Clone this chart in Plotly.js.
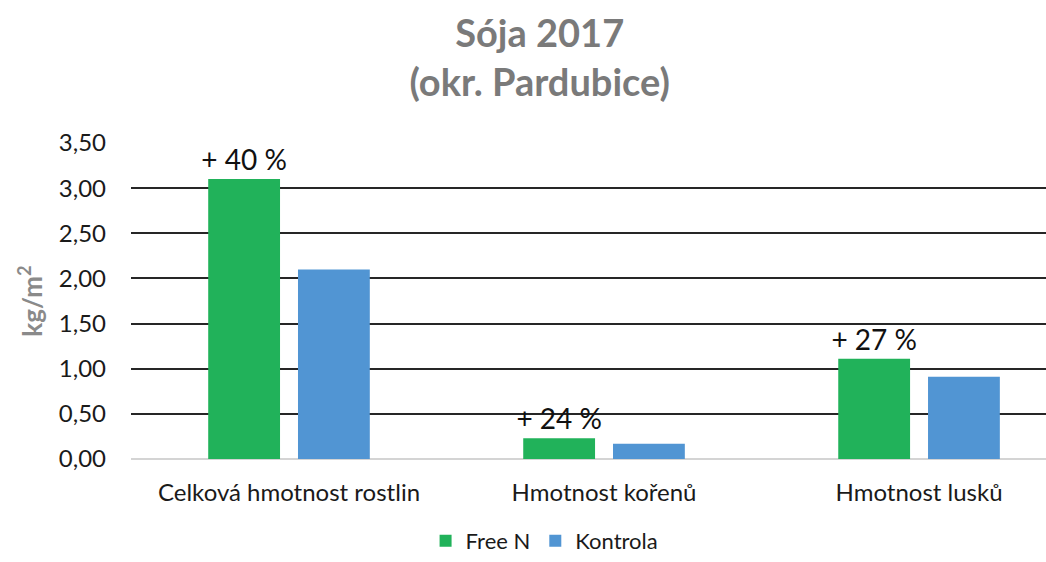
<!DOCTYPE html>
<html>
<head>
<meta charset="utf-8">
<script src="https://cdn.plot.ly/plotly-3.0.1.min.js"></script>
<style>html,body{margin:0;padding:0;background:#fff}#chart{width:1046px;height:562px}</style>
</head>
<body>
<div id="chart"></div>
<script>
const categories = ["Celková hmotnost rostlin", "Hmotnost kořenů", "Hmotnost lusků"];
const freeN = [3.10, 0.23, 1.11];
const kontrola = [2.10, 0.17, 0.91];
const freeNLabels = ["+ 40 %", "+ 24 %", "+ 27 %"];
const yTicks = [0, 0.5, 1, 1.5, 2, 2.5, 3, 3.5];

const font = "Lato, 'Open Sans', sans-serif";

const traces = [
  {
    type: "bar", name: "Free N", x: categories, y: freeN,
    marker: {color: "#21b25a"},
    text: freeNLabels, textposition: "outside", cliponaxis: false,
    constraintext: "none",
    textfont: {size: 28, color: "#111", family: font},
    hoverinfo: "y"
  },
  {
    type: "bar", name: "Kontrola", x: categories, y: kontrola,
    marker: {color: "#5195d3"},
    hoverinfo: "y"
  }
];

const layout = {
  width: 1046, height: 562,
  margin: {l: 131, r: 0, t: 143, b: 103, autoexpand: false},
  paper_bgcolor: "#fff", plot_bgcolor: "#fff",
  font: {family: font, color: "#1a1a1a", size: 24},
  separators: ",.",
  title: {
    text: "<b>Sója 2017<br>(okr. Pardubice)</b>",
    font: {size: 38, color: "#7a7a7a", family: font},
    x: 0.516, xref: "container", xanchor: "center",
    y: 0.917, yref: "container", yanchor: "middle"
  },
  barmode: "group",
  bargap: 0.43,
  bargroupgap: 0.2,
  xaxis: {
    type: "category",
    range: [-0.5016, 2.403],
    showgrid: false, zeroline: false, showline: false,
    ticks: "", ticklabelstandoff: 17, automargin: false,
    tickfont: {size: 24, color: "#1a1a1a", family: font}
  },
  yaxis: {
    range: [0, 3.5],
    tickvals: yTicks, tickformat: ".2f",
    showgrid: true, gridcolor: "#262626", gridwidth: 2,
    zeroline: true, zerolinecolor: "#d4d4d4", zerolinewidth: 2,
    showline: false, ticks: "", ticklabelstandoff: 24, automargin: false,
    tickfont: {size: 24, color: "#1a1a1a", family: font},
    title: {text: "<b>kg/m<sup>2</sup></b>", font: {size: 26, color: "#8a8a8a", family: font}, standoff: 8}
  },
  showlegend: true,
  legend: {
    orientation: "h",
    x: 0.452, xanchor: "center",
    y: -0.009, yref: "container", yanchor: "bottom",
    font: {size: 22, color: "#1a1a1a", family: font},
    traceorder: "normal",
    itemwidth: 30,
    tracegroupgap: 0
  }
};

Plotly.newPlot("chart", traces, layout, {displayModeBar: false, staticPlot: true});
</script>
</body>
</html>
